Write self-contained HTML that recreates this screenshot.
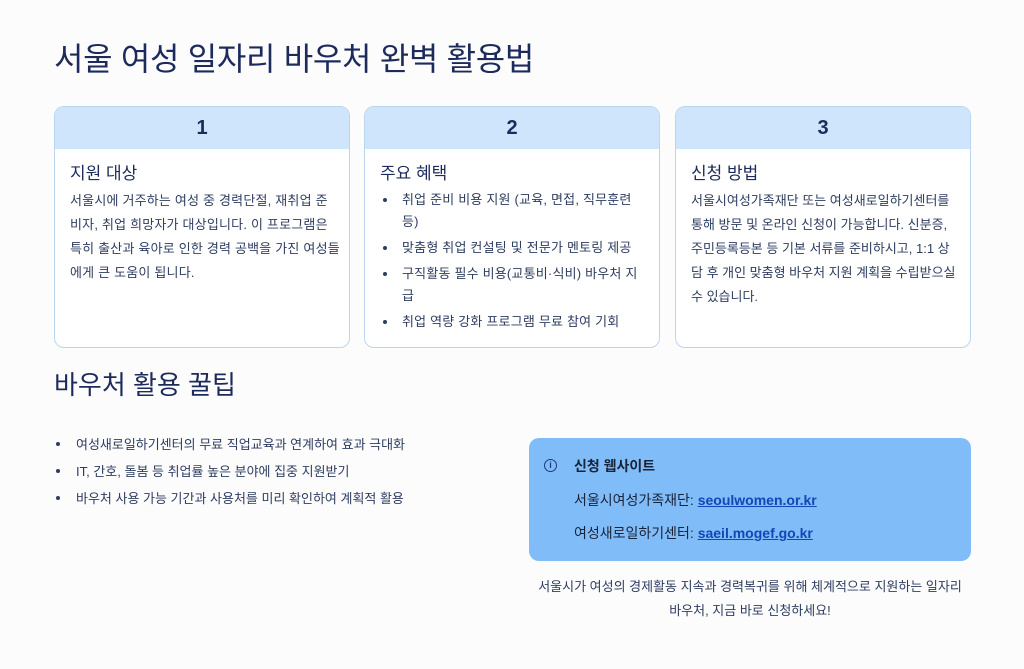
<!DOCTYPE html>
<html><head><meta charset="utf-8"><style>
*{margin:0;padding:0;box-sizing:border-box}
body{width:1024px;height:669px;background:#fcfcfd;font-family:"Liberation Sans","Noto Sans CJK KR",sans-serif;color:#2a3a5e;position:relative;overflow:hidden}
h1{position:absolute;left:54px;top:34px;font-size:32px;font-weight:400;color:#1d2b5c;letter-spacing:-0.3px}
.card{position:absolute;top:106px;width:296px;height:242px;border:1.5px solid #bcd5ef;border-radius:10px;background:#fff;overflow:hidden}
.hd{height:42px;background:#cfe5fb;text-align:center;font-size:20px;font-weight:700;line-height:42px;color:#1d2b5c}
.bd{padding:10px 14px 0 15px}
.bd h3{font-size:17px;font-weight:400;color:#1d2b5c;margin-bottom:5px}
.bd p{font-size:13px;line-height:24px;color:#2e3d60;letter-spacing:0.2px;white-space:nowrap}
.bd ul{list-style:none;font-size:13px;line-height:22px;color:#2e3d60;letter-spacing:0.2px;white-space:nowrap}
.bd li{position:relative;padding-left:22px;margin-bottom:4px}
.bd li:before{content:"";position:absolute;left:3px;top:9px;width:4px;height:4px;border-radius:50%;background:#2e3d60}
h2{position:absolute;left:54px;top:365px;font-size:26px;font-weight:400;color:#1d2b5c}
.tips{position:absolute;left:54px;top:431px;list-style:none;font-size:13px;line-height:27px;color:#2e3d60}
.tips li{position:relative;padding-left:22px}
.tips li:before{content:"";position:absolute;left:2px;top:11px;width:4px;height:4px;border-radius:50%;background:#2e3d60}
.box{position:absolute;left:529px;top:438px;width:442px;height:123px;background:#80bdf8;border-radius:10px;color:#1a2238}
.box .t{position:absolute;left:45px;top:18px;font-size:14px;font-weight:700}
.box .i{position:absolute;left:15px;top:21px;width:13px;height:13px;border:1.5px solid #1d3a7a;border-radius:50%;font-size:9px;line-height:10px;text-align:center;color:#1d3a7a;font-weight:700}
.box .l{position:absolute;left:45px;font-size:14px}
.box a{color:#1347b8;text-decoration:underline;font-weight:700}
.foot{position:absolute;left:529px;width:442px;top:575px;text-align:center;font-size:13px;line-height:24px;color:#2e3d60}
</style></head><body>
<h1>서울 여성 일자리 바우처 완벽 활용법</h1>
<div class="card" style="left:54px"><div class="hd">1</div><div class="bd"><h3>지원 대상</h3><p>서울시에 거주하는 여성 중 경력단절, 재취업 준<br>비자, 취업 희망자가 대상입니다. 이 프로그램은<br>특히 출산과 육아로 인한 경력 공백을 가진 여성들<br>에게 큰 도움이 됩니다.</p></div></div>
<div class="card" style="left:364px"><div class="hd">2</div><div class="bd"><h3>주요 혜택</h3><ul><li>취업 준비 비용 지원 (교육, 면접, 직무훈련<br>등)</li><li>맞춤형 취업 컨설팅 및 전문가 멘토링 제공</li><li>구직활동 필수 비용(교통비·식비) 바우처 지<br>급</li><li>취업 역량 강화 프로그램 무료 참여 기회</li></ul></div></div>
<div class="card" style="left:675px"><div class="hd">3</div><div class="bd"><h3>신청 방법</h3><p style="letter-spacing:0">서울시여성가족재단 또는 여성새로일하기센터를<br>통해 방문 및 온라인 신청이 가능합니다. 신분증,<br>주민등록등본 등 기본 서류를 준비하시고, 1:1 상<br>담 후 개인 맞춤형 바우처 지원 계획을 수립받으실<br>수 있습니다.</p></div></div>
<h2>바우처 활용 꿀팁</h2>
<ul class="tips"><li>여성새로일하기센터의 무료 직업교육과 연계하여 효과 극대화</li><li>IT, 간호, 돌봄 등 취업률 높은 분야에 집중 지원받기</li><li>바우처 사용 가능 기간과 사용처를 미리 확인하여 계획적 활용</li></ul>
<div class="box"><div class="i">i</div><div class="t">신청 웹사이트</div><div class="l" style="top:52px">서울시여성가족재단: <a>seoulwomen.or.kr</a></div><div class="l" style="top:85px">여성새로일하기센터: <a>saeil.mogef.go.kr</a></div></div>
<div class="foot">서울시가 여성의 경제활동 지속과 경력복귀를 위해 체계적으로 지원하는 일자리<br>바우처, 지금 바로 신청하세요!</div>
</body></html>
